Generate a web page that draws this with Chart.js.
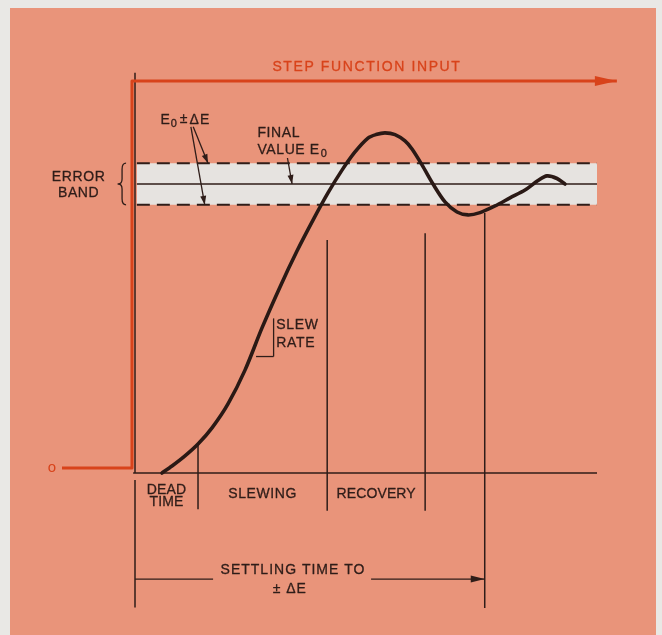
<!DOCTYPE html>
<html>
<head>
<meta charset="utf-8">
<script src="https://cdn.jsdelivr.net/npm/chart.js@4.4.1/dist/chart.umd.min.js"></script>
<style>
html,body{margin:0;padding:0;background:#e9e8e5;}
canvas{display:block;}
</style>
</head>
<body>
<canvas id="c" width="662" height="635"></canvas>
<script>
// ---- data (time units, output in units of final value E0) ----
const E0 = 1.0;
const deltaE = 0.072;
// response curve (time, output)
const respT = [0.584, 0.801, 1.082, 1.364, 1.667, 2.013, 2.381, 2.749, 3.139, 3.506, 3.853, 4.177, 4.481, 4.762, 5.043, 5.216, 5.411, 5.628, 5.844, 5.996, 6.212, 6.450, 6.710, 6.970, 7.208, 7.468, 7.792, 8.117, 8.442, 8.723, 8.918, 9.134, 9.307];
const respV = [0.0, 0.024, 0.059, 0.100, 0.156, 0.239, 0.356, 0.502, 0.644, 0.768, 0.875, 0.969, 1.048, 1.111, 1.159, 1.171, 1.177, 1.171, 1.149, 1.121, 1.066, 1.0, 0.938, 0.903, 0.893, 0.901, 0.924, 0.952, 0.979, 1.012, 1.028, 1.019, 1.0];
// step function input (red)
const stepT = [-1.58, -0.065, -0.065, 10.43];
const stepV = [0.017, 0.017, 1.356, 1.356];
// phase boundaries on time axis
const deadTimeEnd = 1.364;
const slewingEnd = 4.16;
const recoveryEnd = 6.28;
const settlingTime = 7.57;
const bandStart = 0.04, bandEnd = 10.0;
const phaseLabels = ["SLEWING", "RECOVERY"];

const INK = '#2f1d19';
const RED = '#d8431b';
const SALMON = '#e9947a';
const BAND = '#e6e3e0';
const FONT = '"Liberation Sans", Arial, sans-serif';

function seg(x0, y0, x1, y1) { return [{x:x0,y:y0},{x:x1,y:y1}]; }
function lineDS(data, opts) {
  return Object.assign({type:'line', data, borderColor: INK, borderWidth: 1.5, pointRadius: 0, fill: false, clip: false, tension: 0, order: 5}, opts||{});
}

const datasets = [
  lineDS(respT.map((t,i)=>({x:t, y:respV[i]})), {borderWidth: 3.6, tension: 0.3, order: 0, borderColor:'#2a1915', borderCapStyle:'round'}),
  lineDS(stepT.map((t,i)=>({x:t, y:stepV[i]})), {borderColor: RED, borderWidth: 3, order: 1, borderJoinStyle:'round'}),
  // axes
  lineDS(seg(-0.04, 0, bandEnd, 0)),
  lineDS(seg(0, 0, 0, 1.385)),
  lineDS(seg(0, -0.024, 0, -0.465)),
  // phase markers
  lineDS(seg(deadTimeEnd, 0.1, deadTimeEnd, -0.125)),
  lineDS(seg(slewingEnd, 0.806, slewingEnd, -0.131)),
  lineDS(seg(recoveryEnd, 0.83, recoveryEnd, -0.131)),
  lineDS(seg(settlingTime, 0.9, settlingTime, -0.467)),
  // center line
  lineDS(seg(bandStart, E0, bandEnd, E0), {order: 8}),
  // error band
  lineDS(seg(bandStart, E0 + deltaE, bandEnd, E0 + deltaE), {fill: '+1', backgroundColor: BAND, borderDash:[13,7], borderWidth: 2, order: 10}),
  lineDS(seg(bandStart, E0 - deltaE, bandEnd, E0 - deltaE), {borderDash:[13,7], borderWidth: 2, order: 9}),
];

function arrowHead(ctx, x0, y0, x1, y1, len, half, color) {
  const a = Math.atan2(y1 - y0, x1 - x0);
  ctx.save();
  ctx.fillStyle = color;
  ctx.beginPath();
  ctx.moveTo(x1, y1);
  ctx.lineTo(x1 - len*Math.cos(a) + half*Math.sin(a), y1 - len*Math.sin(a) - half*Math.cos(a));
  ctx.lineTo(x1 - len*Math.cos(a) - half*Math.sin(a), y1 - len*Math.sin(a) + half*Math.cos(a));
  ctx.closePath();
  ctx.fill();
  ctx.restore();
}
function line(ctx, x0, y0, x1, y1, w, color) {
  ctx.save(); ctx.strokeStyle = color; ctx.lineWidth = w;
  ctx.beginPath(); ctx.moveTo(x0,y0); ctx.lineTo(x1,y1); ctx.stroke(); ctx.restore();
}

const bgPlugin = {
  id: 'bg',
  beforeDraw(chart) {
    const ctx = chart.ctx;
    ctx.save();
    ctx.fillStyle = '#e9e8e5';
    ctx.fillRect(0, 0, chart.width, chart.height);
    ctx.fillStyle = SALMON;
    ctx.fillRect(10, 8, 646, chart.height - 8);
    ctx.restore();
  }
};

const annPlugin = {
  id: 'ann',
  afterDatasetsDraw(chart) {
    const ctx = chart.ctx;
    const X = v => chart.scales.x.getPixelForValue(v);
    const Y = v => chart.scales.y.getPixelForValue(v);
    ctx.save();
    ctx.textBaseline = 'middle';
    ctx.lineJoin = 'round';
    const put = (s, x, y, color) => {
      ctx.fillStyle = color; ctx.strokeStyle = color; ctx.lineWidth = 0.3;
      ctx.fillText(s, x, y); ctx.strokeText(s, x, y);
    };
    const txt = (s, x, y, align, color, size, sp) => {
      ctx.font = (size || 14) + 'px ' + FONT;
      ctx.letterSpacing = (sp === undefined ? 0.6 : sp) + 'px';
      ctx.textAlign = align || 'center';
      put(s, x, y, color || INK);
      ctx.letterSpacing = '0px';
    };
    // step arrow head
    arrowHead(ctx, X(10.0), Y(1.356), X(10.43), Y(1.356), 22, 5, RED);
    txt('STEP FUNCTION INPUT', X(5.02), Y(1.405), 'center', RED, 14, 1.6);
    // zero label
    ctx.font = '15px ' + FONT; ctx.textAlign = 'center'; ctx.fillStyle = RED;
    ctx.fillText('o', X(-1.8), Y(0.019));

    // E0 ± ΔE
    ctx.font = '14px ' + FONT; ctx.textAlign = 'left';
    let x = X(0.55), y = Y(1.22);
    put('E', x, y, INK); x += ctx.measureText('E').width + 1;
    ctx.font = '11px ' + FONT; put('0', x, y + 4, INK); x += ctx.measureText('0').width + 3;
    ctx.font = '14px ' + FONT; put('\u00b1', x, y - 1, INK); x += ctx.measureText('\u00b1').width + 2;
    ctx.letterSpacing = '1px';
    put('\u0394E', x, y, INK);
    ctx.letterSpacing = '0px';
    line(ctx, X(1.26), Y(1.198), X(1.58), Y(E0 + deltaE), 1.3, INK);
    arrowHead(ctx, X(1.26), Y(1.198), X(1.58), Y(E0 + deltaE), 9, 3, INK);
    line(ctx, X(1.21), Y(1.198), X(1.51), Y(E0 - deltaE), 1.3, INK);
    arrowHead(ctx, X(1.21), Y(1.198), X(1.51), Y(E0 - deltaE), 9, 3, INK);

    // FINAL VALUE E0
    txt('FINAL', X(2.65), Y(1.176), 'left');
    ctx.font = '14px ' + FONT; ctx.textAlign = 'left'; ctx.letterSpacing = '0.6px';
    x = X(2.65); y = Y(1.118);
    put('VALUE E', x, y, INK); x += ctx.measureText('VALUE E').width + 1;
    ctx.font = '11px ' + FONT; put('0', x, y + 4, INK);
    ctx.letterSpacing = '0px';
    line(ctx, X(3.3), Y(1.09), X(3.4), Y(E0), 1.3, INK);
    arrowHead(ctx, X(3.3), Y(1.09), X(3.4), Y(E0), 9, 3, INK);

    // ERROR BAND with brace
    txt('ERROR', X(-1.22), Y(1.024), 'center');
    txt('BAND', X(-1.22), Y(0.968), 'center');
    const bx = X(-0.28), bt = Y(E0 + deltaE), bb = Y(E0 - deltaE), bm = Y(E0);
    ctx.strokeStyle = INK; ctx.lineWidth = 1.3;
    ctx.beginPath();
    ctx.moveTo(bx + 4, bt);
    ctx.quadraticCurveTo(bx, bt, bx, bt + 6);
    ctx.lineTo(bx, bm - 5);
    ctx.quadraticCurveTo(bx, bm, bx - 4, bm);
    ctx.quadraticCurveTo(bx, bm, bx, bm + 5);
    ctx.lineTo(bx, bb - 6);
    ctx.quadraticCurveTo(bx, bb, bx + 4, bb);
    ctx.stroke();

    // slew rate triangle
    line(ctx, X(3.0), Y(0.535), X(3.0), Y(0.403), 1.3, INK);
    line(ctx, X(2.62), Y(0.403), X(3.0), Y(0.403), 1.3, INK);
    txt('SLEW', X(3.06), Y(0.51), 'left');
    txt('RATE', X(3.06), Y(0.45), 'left');

    // phase labels
    txt('DEAD', X((0 + deadTimeEnd)/2), Y(-0.058), 'center', INK, 14, 0.2);
    txt('TIME', X((0 + deadTimeEnd)/2), Y(-0.1), 'center', INK, 14, 0.2);
    txt(phaseLabels[0], X((deadTimeEnd + slewingEnd)/2), Y(-0.073), 'center');
    txt(phaseLabels[1], X((slewingEnd + recoveryEnd)/2), Y(-0.073), 'center', INK, 14, 0.1);

    // settling time arrow
    const ay = Y(-0.367);
    line(ctx, X(0), ay, X(1.69), ay, 1.3, INK);
    line(ctx, X(5.11), ay, X(settlingTime), ay, 1.3, INK);
    arrowHead(ctx, X(5.11), ay, X(settlingTime), ay, 14, 3.5, INK);
    txt('SETTLING TIME TO', X(3.42), Y(-0.335), 'center', INK, 14, 1);
    txt('\u00b1 \u0394E', X(3.35), Y(-0.401), 'center', INK, 14, 1);
    ctx.restore();
  }
};

new Chart(document.getElementById('c'), {
  type: 'scatter',
  data: { datasets },
  options: {
    responsive: false,
    animation: false,
    events: [],
    layout: { padding: { left: 19.5, right: 18.8, top: 39.5, bottom: 17.5 } },
    plugins: { legend: { display: false }, tooltip: { enabled: false } },
    scales: {
      x: { type: 'linear', min: -2.5, max: 11, display: false },
      y: { type: 'linear', min: -0.5, max: 1.5, display: false }
    }
  },
  plugins: [bgPlugin, annPlugin]
});
</script>
</body>
</html>
